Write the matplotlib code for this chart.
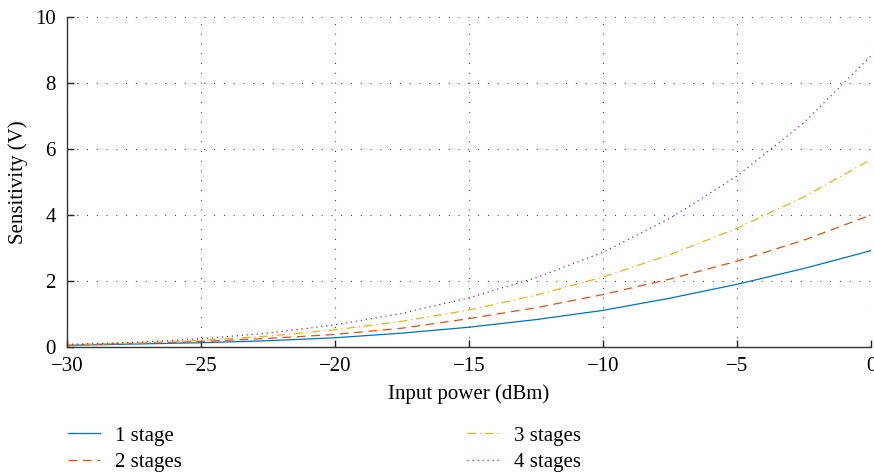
import matplotlib
matplotlib.use("Agg")
import matplotlib.pyplot as plt

plt.rcParams['font.family'] = ['Liberation Serif', 'DejaVu Serif']

power_dbm = [-30, -27.5, -25, -22.5, -20, -17.5, -15, -12.5, -10, -7.5, -5, -2.5, 0]
stage1 = [0.05, 0.09, 0.13, 0.19, 0.28, 0.42, 0.60, 0.83, 1.11, 1.48, 1.90, 2.38, 2.92]
stage2 = [0.06, 0.11, 0.17, 0.26, 0.38, 0.57, 0.86, 1.19, 1.59, 2.06, 2.60, 3.24, 4.00]
stage3 = [0.07, 0.12, 0.20, 0.33, 0.52, 0.78, 1.12, 1.57, 2.12, 2.80, 3.60, 4.55, 5.68]
stage4 = [0.08, 0.14, 0.25, 0.42, 0.67, 1.02, 1.49, 2.10, 2.87, 3.90, 5.18, 6.80, 8.82]
labels = ["1 stage", "2 stages", "3 stages", "4 stages"]
xticks = [-30, -25, -20, -15, -10, -5, 0]
xticklabels = ["\u221230", "\u221225", "\u221220", "\u221215", "\u221210", "\u22125", "0"]
yticks = [0, 2, 4, 6, 8, 10]

fs = 15
fig = plt.figure(figsize=(8.74, 4.75), dpi=100)
ax = fig.add_axes([67/874, 1-347/475, (871-67)/874, (347-17)/475])

lw = 0.9
h1, = ax.plot(power_dbm, stage1, color='#0072BD', lw=lw, label=labels[0])
h2, = ax.plot(power_dbm, stage2, color='#D95319', lw=lw, dashes=(7, 4.5), label=labels[1])
h3, = ax.plot(power_dbm, stage3, color='#EDB120', lw=lw, dashes=(7, 3, 1, 3), label=labels[2])
h4, = ax.plot(power_dbm, stage4, color='#7E2F8E', lw=lw, dashes=(1, 3), label=labels[3])

ax.set_xlim(-30, 0)
ax.set_ylim(0, 10)
ax.set_xticks(xticks)
ax.set_xticklabels(xticklabels)
ax.set_yticks(yticks)
ax.grid(True, color='#222222', linewidth=0.8, dashes=(0.8, 8))
ax.set_axisbelow(True)
for s in ['top', 'right']:
    ax.spines[s].set_visible(False)
for s in ['left', 'bottom']:
    ax.spines[s].set_color('#333333')
    ax.spines[s].set_linewidth(1.0)
ax.tick_params(direction='in', length=5, width=1.0, color='#222222', labelsize=fs)
ax.tick_params(axis='x', pad=7)
ax.tick_params(axis='y', pad=8)
ax.set_xlabel("Input power (dBm)", fontsize=fs, labelpad=6)
ax.set_ylabel("Sensitivity (V)", fontsize=fs, labelpad=5)

common = dict(loc='upper left', frameon=False, fontsize=fs, handlelength=1.55,
              handletextpad=0.72, labelspacing=0.35, borderaxespad=0, borderpad=0)
fig.legend([h1, h2], labels[:2], bbox_to_anchor=(68/874, 1-426/475), **common)
fig.legend([h3, h4], labels[2:], bbox_to_anchor=(467/874, 1-426/475), **common)

fig.savefig("out.png", dpi=100)
